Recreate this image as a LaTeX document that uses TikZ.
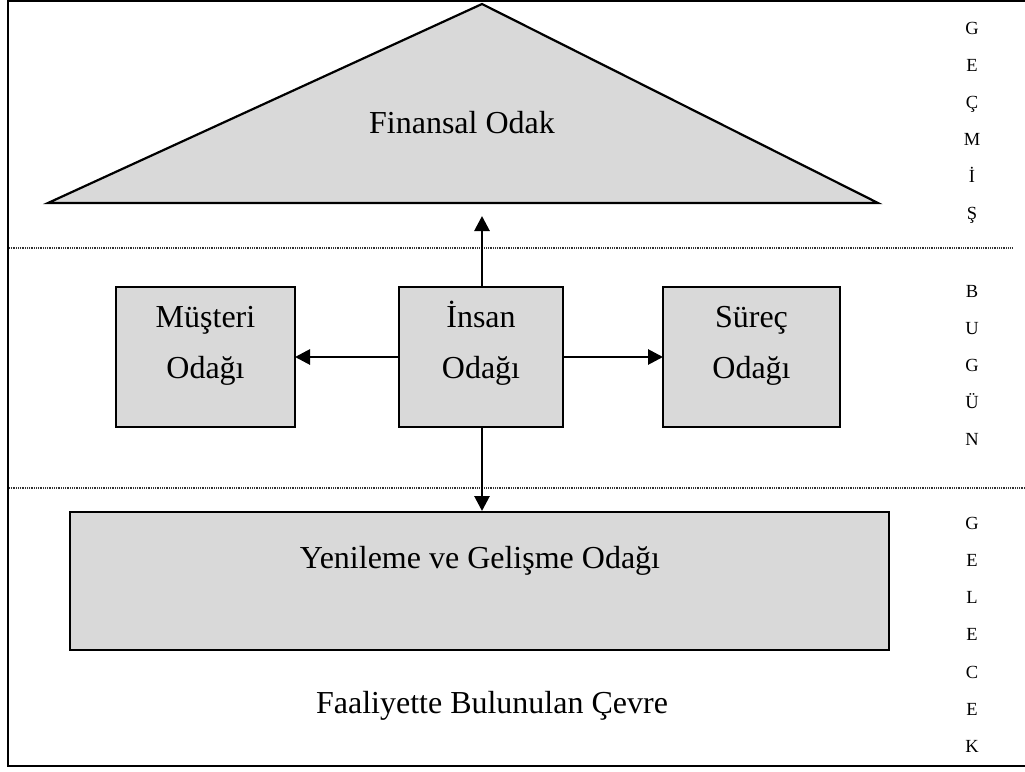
\documentclass[tikz,border=0pt]{standalone}
\usepackage{fontspec}
\setmainfont{Liberation Serif}
\usetikzlibrary{arrows.meta}
\definecolor{boxgray}{RGB}{217,217,217}
\begin{document}
\begin{tikzpicture}[x=1pt,y=-1pt,
  focusbox/.style={draw=black,line width=2.2pt,fill=boxgray},
  bigtext/.style={font=\fontsize{32}{36}\selectfont,anchor=base,inner sep=0pt},
  sidetext/.style={font=\fontsize{18.5}{20}\selectfont,anchor=base,inner sep=0pt},
  divider/.style={draw=black!80,line width=1.3pt,dash pattern=on 0.9pt off 0.9pt},
  flow/.style={line width=2.8pt,-{Triangle[length=15pt,width=15pt]}}]
\useasboundingbox (0,0) rectangle (1025,771);
\fill[white] (0,0) rectangle (1025,771);

% outer frame (open on the right)
\draw[line width=2.2pt] (1025,1) -- (8,1) -- (8,766) -- (1025,766);

% time bands
\draw[divider] (9,248) -- (1012,248);
\draw[divider] (9,488) -- (1025,488);

% financial focus
\draw[focusbox,line join=miter] (48,203) -- (482,4) -- (878,203) -- cycle;
\node[bigtext] (fintext) at (462,133) {Finansal Odak};

% focus boxes
\path[focusbox] (116,287) rectangle (295,427);
\path[focusbox] (399,287) rectangle (563,427);
\path[focusbox] (663,287) rectangle (840,427);
\path[focusbox] (70,512) rectangle (889,650);
\coordinate (musR) at (295,357);
\coordinate (insL) at (399,357);
\coordinate (insR) at (563,357);
\coordinate (insT) at (482,287);
\coordinate (insB) at (482,427);
\coordinate (surL) at (663,357);
\coordinate (yenT) at (482,511);
\coordinate (upTip) at (482,216);

\node[bigtext] (mus1) at (205.5,327) {Müşteri};
\node[bigtext] (mus2) at (205.5,378) {Odağı};
\node[bigtext] (ins1) at (481,327) {İnsan};
\node[bigtext] (ins2) at (481,378) {Odağı};
\node[bigtext] (sur1) at (751.5,327) {Süreç};
\node[bigtext] (sur2) at (751.5,378) {Odağı};
\node[bigtext] (yen) at (480,568) {Yenileme ve Gelişme Odağı};
\node[bigtext] (env) at (492,713) {Faaliyette Bulunulan Çevre};

% arrows from the people focus
\draw[flow] (insT) -- (upTip);
\draw[flow] (insL) -- (musR);
\draw[flow] (insR) -- (surL);
\draw[flow] (insB) -- (yenT);

% vertical band labels
\foreach \ch [count=\i from 0] in {G,E,Ç,M,İ,Ş}
  \node[sidetext] (past\i) at (972,34+37*\i) {\ch};
\foreach \ch [count=\i from 0] in {B,U,G,Ü,N}
  \node[sidetext] (now\i) at (972,297+37*\i) {\ch};
\foreach \ch [count=\i from 0] in {G,E,L,E,C,E,K}
  \node[sidetext] (fut\i) at (972,529+37.3*\i) {\ch};
\end{tikzpicture}
\end{document}
